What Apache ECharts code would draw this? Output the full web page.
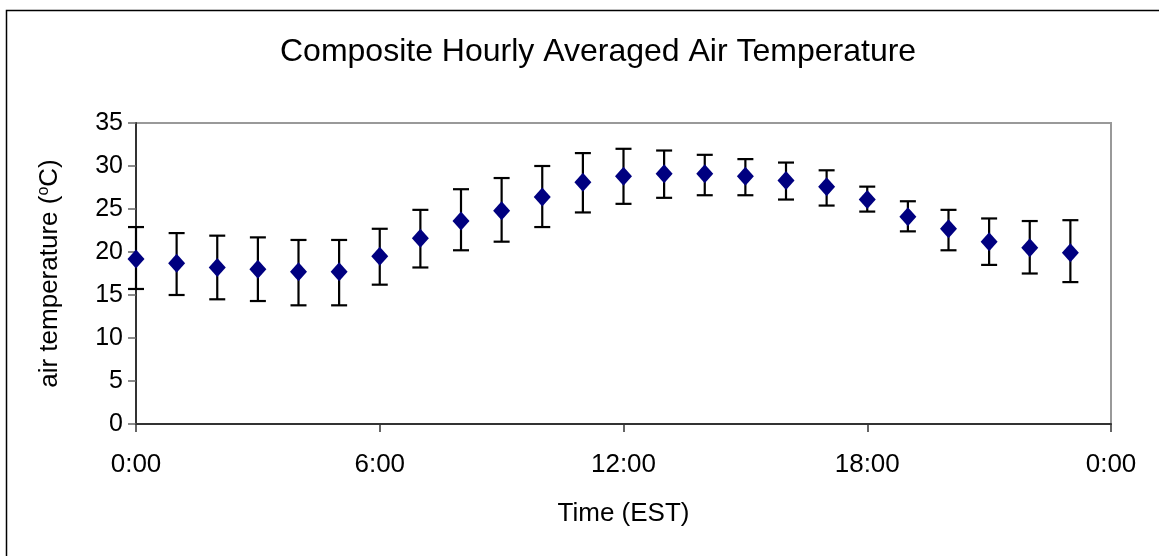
<!DOCTYPE html>
<html>
<head>
<meta charset="utf-8">
<script src="https://cdn.jsdelivr.net/npm/echarts@6/dist/echarts.min.js"></script>
<style>
html,body{margin:0;padding:0;background:#fff;}
#chart{width:1159px;height:556px;}
</style>
</head>
<body>
<div id="chart"></div>
<script>
// Hour of day (EST)
const hours = [0,1,2,3,4,5,6,7,8,9,10,11,12,13,14,15,16,17,18,19,20,21,22,23];
// Mean air temperature (°C)
const meanTemp = [19.2,18.7,18.2,18.0,17.7,17.7,19.5,21.6,23.6,24.8,26.4,28.1,28.8,29.1,29.1,28.8,28.3,27.6,26.1,24.1,22.7,21.2,20.5,19.9];
// Error bar upper bounds
const upperTemp = [22.9,22.2,21.9,21.7,21.4,21.4,22.7,24.9,27.3,28.6,30.0,31.5,32.0,31.8,31.3,30.8,30.4,29.5,27.6,25.9,24.9,23.9,23.6,23.7];
// Error bar lower bounds
const lowerTemp = [15.7,15.0,14.5,14.3,13.8,13.8,16.2,18.2,20.2,21.2,22.9,24.6,25.6,26.3,26.6,26.6,26.1,25.4,24.7,22.4,20.2,18.5,17.5,16.5];
// X-axis tick labels (every 6 hours)
const xTickLabels = {0:'0:00',6:'6:00',12:'12:00',18:'18:00',24:'0:00'};

const chart = echarts.init(document.getElementById('chart'), null, {renderer:'canvas'});
const FONT = 'Liberation Sans, Arial, sans-serif';

const pointData = hours.map((h,i)=>[h, meanTemp[i]]);
const errData = hours.map((h,i)=>[h, lowerTemp[i], upperTemp[i]]);

const option = {
  backgroundColor:'#fff',
  animation:false,
  textStyle:{fontFamily:FONT, color:'#000'},
  graphic:[{
    type:'rect', left:4, top:8, z:-10,
    shape:{x:0,y:0,width:1300,height:700},
    style:{fill:'none', stroke:'#000', lineWidth:1.5}
  }],
  title:{
    text:'Composite Hourly Averaged Air Temperature',
    left:280, top:36, padding:0,
    textStyle:{fontFamily:FONT, fontSize:32, fontWeight:'normal', color:'#000'}
  },
  grid:{left:136, top:123, right:48, bottom:132, show:true, borderColor:'#999', borderWidth:2, backgroundColor:'#fff'},
  xAxis:{
    type:'value', min:0, max:24, interval:6,
    name:'Time (EST)', nameLocation:'middle', nameGap:77,
    nameTextStyle:{fontFamily:FONT, fontSize:26, color:'#000'},
    axisLine:{show:true, onZero:false, lineStyle:{color:'#333', width:2}},
    axisTick:{show:true, inside:false, length:8, lineStyle:{color:'#333', width:1.5}},
    axisLabel:{fontFamily:FONT, fontSize:26, color:'#000', margin:28, formatter:v=>xTickLabels[v]},
    splitLine:{show:false}
  },
  yAxis:{
    type:'value', min:0, max:35, interval:5,
    name:'air temperature ({sup|o}C)', nameLocation:'middle', nameGap:72, nameRotate:90,
    nameTextStyle:{fontFamily:FONT, fontSize:26, color:'#000',
      rich:{sup:{fontFamily:FONT, fontSize:16, color:'#000', verticalAlign:'top', padding:[0,0,12,0]}}},
    axisLine:{show:true, lineStyle:{color:'#333', width:2}},
    axisTick:{show:true, inside:false, length:8, lineStyle:{color:'#666', width:1.5}},
    axisLabel:{fontFamily:FONT, fontSize:25, color:'#000', margin:13},
    splitLine:{show:false}
  },
  series:[
    {
      type:'custom', name:'error', z:2, clip:false,
      data:errData,
      renderItem:function(params, api){
        const x = api.value(0), lo = api.value(1), hi = api.value(2);
        const pHi = api.coord([x, hi]);
        const pLo = api.coord([x, lo]);
        const hw = 8;
        const st = {stroke:'#000', lineWidth:2.2};
        return {type:'group', children:[
          {type:'line', shape:{x1:pHi[0], y1:pHi[1], x2:pLo[0], y2:pLo[1]}, style:st},
          {type:'line', shape:{x1:pHi[0]-hw, y1:pHi[1], x2:pHi[0]+hw, y2:pHi[1]}, style:st},
          {type:'line', shape:{x1:pLo[0]-hw, y1:pLo[1], x2:pLo[0]+hw, y2:pLo[1]}, style:st}
        ]};
      }
    },
    {
      type:'scatter', name:'mean', z:5,
      symbol:'diamond', symbolSize:[17,19],
      itemStyle:{color:'#000080', opacity:1},
      data:pointData
    }
  ]
};
chart.setOption(option);
</script>
</body>
</html>
